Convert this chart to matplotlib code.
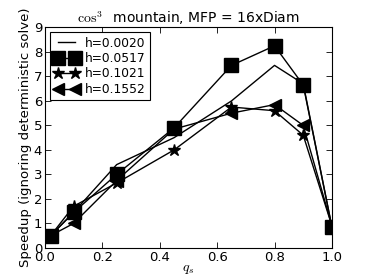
import matplotlib
matplotlib.use("Agg")
import matplotlib.pyplot as plt

plt.rcParams['mathtext.fontset'] = 'cm'
plt.rcParams['xtick.direction'] = 'in'
plt.rcParams['ytick.direction'] = 'in'
plt.rcParams['xtick.top'] = True
plt.rcParams['ytick.right'] = True

qs = [0.02, 0.1, 0.25, 0.45, 0.65, 0.8, 0.9, 1.0]
h0020 = [0.5, 1.45, 3.4, 4.5, 6.0, 7.45, 6.7, 0.85]
h0517 = [0.5, 1.45, 3.0, 4.9, 7.45, 8.25, 6.65, 0.85]
h1021 = [0.5, 1.7, 2.65, 4.0, 5.75, 5.6, 4.6, 0.9]
h1552 = [0.5, 1.0, 2.75, 4.85, 5.5, 5.85, 5.0, 0.9]
labels = ["h=0.0020", "h=0.0517", "h=0.1021", "h=0.1552"]

fig = plt.figure(figsize=(3.68, 2.77), dpi=100)
ax = fig.add_axes([0.122, 0.105, 0.78, 0.796])
ax.plot(qs, h0020, color='k', lw=1, label=labels[0])
ax.plot(qs, h0517, color='k', lw=1, marker='s', ms=9.5, label=labels[1])
ax.plot(qs, h1021, color='k', lw=1, marker='*', ms=9, label=labels[2])
ax.plot(qs, h1552, color='k', lw=1, marker='<', ms=9, label=labels[3])
ax.set_xlim(0, 1)
ax.set_ylim(0, 9)
ax.set_xticks([0.0, 0.2, 0.4, 0.6, 0.8, 1.0])
ax.set_yticks(range(10))
ax.tick_params(labelsize=9.5, length=4, width=0.6, pad=2)
ax.set_xlabel(r'$q_s$', fontsize=10, labelpad=-1)
ax.set_ylabel('Speedup (ignoring deterministic solve)', fontsize=9.5, labelpad=1)
ax.set_title(r'$\cos^3$  mountain, MFP = 16xDiam', fontsize=10, pad=3)
for s in ax.spines.values():
    s.set_linewidth(0.8)
leg = ax.legend(loc='upper left', numpoints=2, fontsize=8.8, fancybox=False,
                edgecolor='k', framealpha=1, handlelength=2.0, borderaxespad=0.4,
                labelspacing=0.2, borderpad=0.35, handletextpad=0.5)
leg.get_frame().set_linewidth(0.8)
fig.savefig('out.png', dpi=100)
